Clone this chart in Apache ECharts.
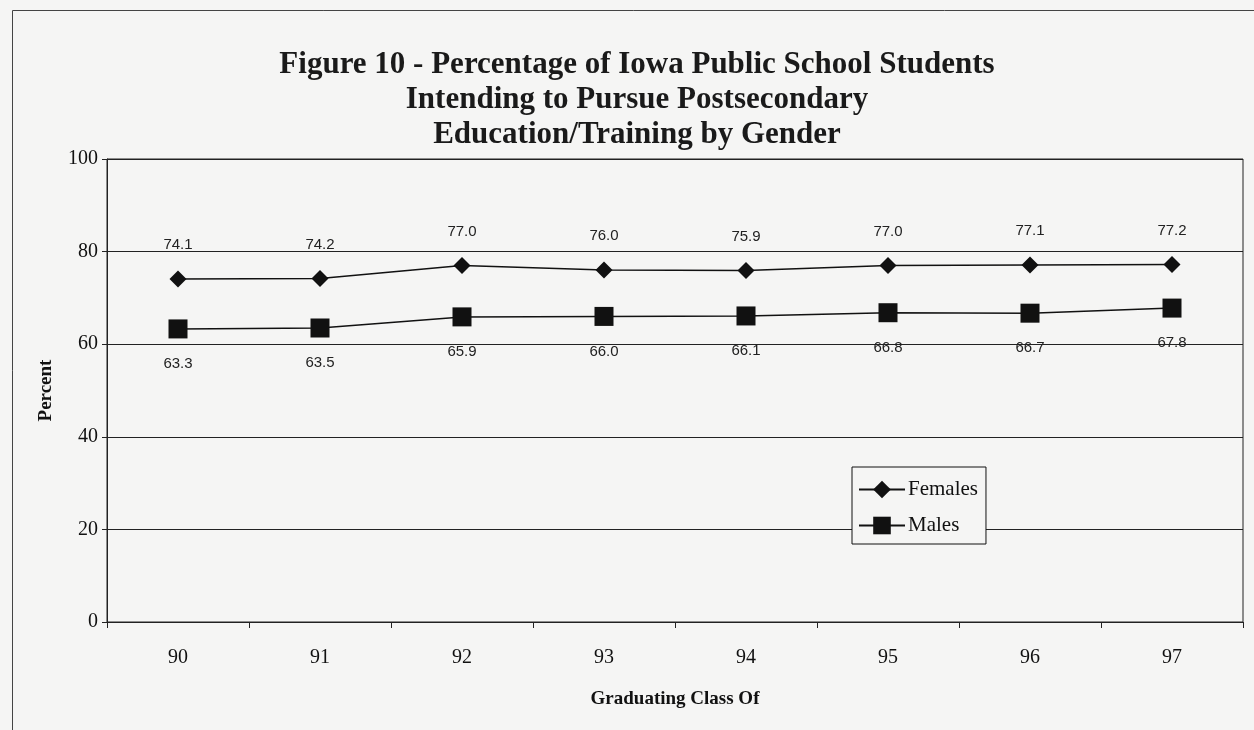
<!DOCTYPE html>
<html>
<head>
<meta charset="utf-8">
<script src="https://cdn.jsdelivr.net/npm/echarts@6/dist/echarts.min.js"></script>
<style>
  html, body { margin: 0; padding: 0; background: #f5f5f4; }
  #main { width: 1254px; height: 730px; }
</style>
</head>
<body>
<div id="main"></div>
<script>
  var years = ['90', '91', '92', '93', '94', '95', '96', '97'];
  var females = [74.1, 74.2, 77.0, 76.0, 75.9, 77.0, 77.1, 77.2];
  var males = [63.3, 63.5, 65.9, 66.0, 66.1, 66.8, 66.7, 67.8];

  var chart = echarts.init(document.getElementById('main'), null, { renderer: 'canvas' });

  var serif = 'Liberation Serif';

  var option = {
    backgroundColor: '#f5f5f4',
    title: {
      text: 'Figure 10 - Percentage of Iowa Public School Students\nIntending to Pursue Postsecondary\nEducation/Training by Gender',
      left: 632,
      top: 42,
      textAlign: 'center',
      textStyle: {
        fontFamily: serif,
        fontWeight: 'bold',
        fontSize: 31,
        lineHeight: 35,
        color: '#1a1a1a'
      }
    },
    legend: {
      left: 852,
      top: 467,
      orient: 'vertical',
      itemWidth: 46,
      itemHeight: 22,
      itemGap: 15,
      padding: [12, 8, 8, 6],
      borderColor: '#111',
      borderWidth: 1,
      backgroundColor: '#f5f5f4',
      textStyle: { fontFamily: serif, fontSize: 21, color: '#111', padding: [0, 0, 0, -2] },
      data: ['Females', 'Males']
    },
    grid: {
      left: 107,
      right: 11,
      top: 159,
      bottom: 108,
      show: true,
      borderColor: '#222',
      borderWidth: 1
    },
    xAxis: {
      type: 'category',
      data: years,
      boundaryGap: true,
      name: 'Graduating Class Of',
      nameLocation: 'middle',
      nameGap: 68,
      nameTextStyle: { fontFamily: serif, fontWeight: 'bold', fontSize: 19, color: '#111' },
      axisLine: { lineStyle: { color: '#222', width: 1 } },
      axisTick: { show: true, length: 6, lineStyle: { color: '#222' } },
      axisLabel: { fontFamily: serif, fontSize: 20, color: '#111', margin: 26 }
    },
    yAxis: {
      type: 'value',
      min: 0,
      max: 100,
      interval: 20,
      name: 'Percent',
      nameLocation: 'middle',
      nameGap: 51,
      nameTextStyle: { fontFamily: serif, fontWeight: 'bold', fontSize: 19, color: '#111' },
      axisLine: { show: true, lineStyle: { color: '#222', width: 1 } },
      axisTick: { show: true, length: 5, lineStyle: { color: '#222' } },
      axisLabel: { fontFamily: serif, fontSize: 20, color: '#111', margin: 9 },
      splitLine: { show: true, lineStyle: { color: '#222', width: 1 } }
    },
    series: [
      {
        name: 'Females',
        type: 'line',
        data: females,
        symbol: 'diamond',
        symbolSize: 17,
        color: '#111',
        lineStyle: { color: '#111', width: 1.5 },
        itemStyle: { color: '#111' },
        label: {
          show: true,
          position: 'top',
          distance: 18,
          formatter: function (p) { return p.value.toFixed(1); },
          fontFamily: 'Liberation Sans',
          fontSize: 15,
          color: '#222'
        }
      },
      {
        name: 'Males',
        type: 'line',
        data: males,
        symbol: 'rect',
        symbolSize: 19,
        color: '#111',
        lineStyle: { color: '#111', width: 1.5 },
        itemStyle: { color: '#111' },
        label: {
          show: true,
          position: 'bottom',
          distance: 18,
          formatter: function (p) { return p.value.toFixed(1); },
          fontFamily: 'Liberation Sans',
          fontSize: 15,
          color: '#222'
        }
      }
    ],
    graphic: [
      {
        type: 'rect',
        left: 10,
        top: 8,
        shape: { x: 0.5, y: 0.5, width: 1250, height: 740 },
        style: { fill: 'none', stroke: '#444', lineWidth: 1 },
        silent: true
      }
    ]
  };

  chart.setOption(option);
</script>
</body>
</html>
